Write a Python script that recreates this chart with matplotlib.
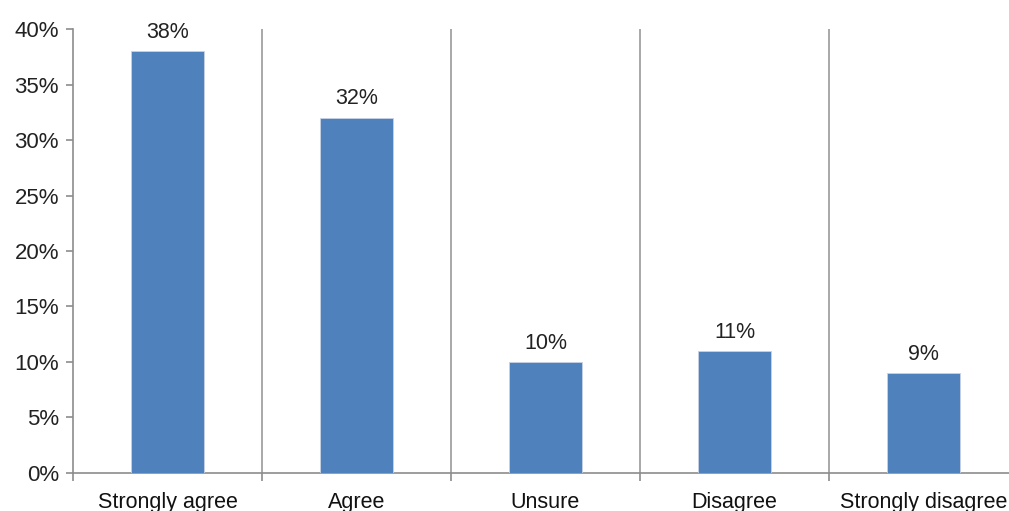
import matplotlib
matplotlib.use("Agg")
from matplotlib import pyplot as plt
from matplotlib.ticker import FixedLocator, FuncFormatter

# data
categories = ["Strongly agree", "Agree", "Unsure", "Disagree", "Strongly disagree"]
values = [38, 32, 10, 11, 9]
y_ticks = [0, 5, 10, 15, 20, 25, 30, 35, 40]

plt.rcParams['font.family'] = ['Liberation Sans', 'DejaVu Sans']

fig = plt.figure(figsize=(10.09, 5.11), dpi=100)
# right edge of the plot runs past the picture, as in the reference
ax = fig.add_axes([0.0723, 0.0744, 0.9366, 0.8688])

x = list(range(len(categories)))
bars = ax.bar(x, values, width=0.39, color='#4F81BD', edgecolor='#c8d3e3', linewidth=0.6, zorder=3)

for xi, v in zip(x, values):
    ax.annotate(f"{v}%", (xi, v), xytext=(0, 6), textcoords='offset points',
                ha='center', va='bottom', fontsize=15.5, color='#222222')

ax.set_xlim(-0.5, len(categories) - 0.5)
ax.set_ylim(0, 40)
ax.set_yticks(y_ticks)
ax.yaxis.set_major_formatter(FuncFormatter(lambda v, p: f"{v:.0f}%"))

ax.set_xticks(x)
ax.set_xticklabels(categories)
ax.xaxis.set_minor_locator(FixedLocator([i + 0.5 for i in range(-1, len(categories))]))
ax.tick_params(axis='x', which='major', length=0, pad=14, labelsize=15.5, labelcolor='#111111')
ax.tick_params(axis='x', which='minor', length=6, color='#8c8c8c', width=1.2)
ax.tick_params(axis='y', length=5, color='#8c8c8c', width=1.2, labelsize=16, labelcolor='#222222', pad=5)

# separators between categories
for b in range(len(categories) - 1):
    ax.axvline(b + 0.5, color='#9a9a9a', linewidth=1.2, zorder=1)

for s in ['top', 'right']:
    ax.spines[s].set_visible(False)
for s in ['left', 'bottom']:
    ax.spines[s].set_color('#8c8c8c')
    ax.spines[s].set_linewidth(1.2)

fig.savefig("out.png", dpi=100)
